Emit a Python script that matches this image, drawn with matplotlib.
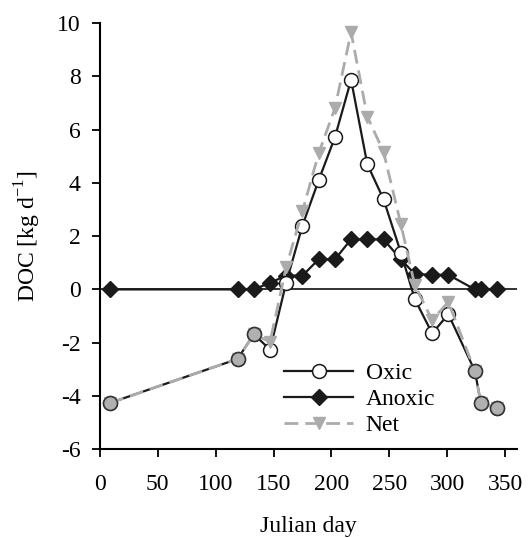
import numpy as np
import matplotlib.pyplot as plt

plt.rcParams['font.family'] = 'serif'
plt.rcParams['font.serif'] = ['Liberation Serif', 'Times New Roman', 'Nimbus Roman', 'DejaVu Serif']
plt.rcParams['axes.unicode_minus'] = False
plt.rcParams['mathtext.fontset'] = 'custom'
plt.rcParams['mathtext.rm'] = 'Liberation Serif'

# sampling days (Julian day)
days = [9, 119, 133, 147, 161, 175, 189, 203, 217, 231, 245, 260, 272, 287, 301, 324, 329, 343]
oxic = [-4.26, -2.61, -1.68, -2.26, 0.26, 2.4, 4.1, 5.71, 7.87, 4.7, 3.39, 1.38,
        -0.36, -1.65, -0.93, -3.07, -4.26, -4.47]
anoxic = [0, 0, 0, 0.25, 0.52, 0.52, 1.13, 1.13, 1.88, 1.88, 1.88, 1.13,
          0.58, 0.55, 0.55, 0, 0, 0]
net = [-4.26, -2.61, -1.68, -1.97, 0.85, 2.94, 5.11, 6.8, 9.66, 6.49, 5.17, 2.45,
       0.16, -1.15, -0.47, -3.07, -4.26, -4.47]

xticks = [0, 50, 100, 150, 200, 250, 300, 350]
yticks = [-6, -4, -2, 0, 2, 4, 6, 8, 10]

gray = '#ababab'

fig = plt.figure(figsize=(5.31, 5.38), dpi=100)
ax = fig.add_axes([0.188, 0.165, 0.785, 0.792])

ax.axhline(0, color='#222222', lw=1.3, zorder=1)

ax.plot(days, oxic, color='#1a1a1a', lw=1.6, marker='o', ms=10, mfc='white',
        mec='#1a1a1a', mew=1.1, label='Oxic', zorder=3)
ax.plot(days, anoxic, color='#1a1a1a', lw=1.6, marker='D', ms=8.5, mfc='#1a1a1a',
        mec='#1a1a1a', label='Anoxic', zorder=2)
ax.plot(days, net, color=gray, lw=2, ls=(0, (5, 2.5)), marker='v', ms=8,
        mfc=gray, mec=gray, label='Net', zorder=4)

# where anoxic flux is zero, oxic and net coincide: grey filled circles
d = np.array(days)
o = np.array(oxic)
same = np.array(anoxic) == 0
ax.plot(d[same], o[same], ls='none', marker='o', ms=10, mfc='#b0b0b0',
        mec='#333333', mew=1.1, zorder=5)

ax.set_xlim(0, 360)
ax.set_ylim(-6, 10)
ax.set_xticks(xticks)
ax.set_yticks(yticks)
ax.spines['top'].set_visible(False)
ax.spines['right'].set_visible(False)
ax.spines['left'].set_linewidth(1.5)
ax.spines['bottom'].set_linewidth(1.5)
ax.tick_params(direction='out', length=6, width=1.3, labelsize=17, pad=8)
ax.tick_params(axis='x', pad=12)

ax.set_xlabel('Julian day', fontsize=17, labelpad=15)
ax.set_ylabel('DOC [kg d$^{\\mathregular{-1}}$]', fontsize=17, labelpad=10)

ax.legend(loc='upper left', bbox_to_anchor=(0.42, 0.226), frameon=False,
          fontsize=17, handlelength=2.9, handletextpad=0.55, labelspacing=0.2,
          borderaxespad=0)

fig.savefig('out.png', dpi=100)
